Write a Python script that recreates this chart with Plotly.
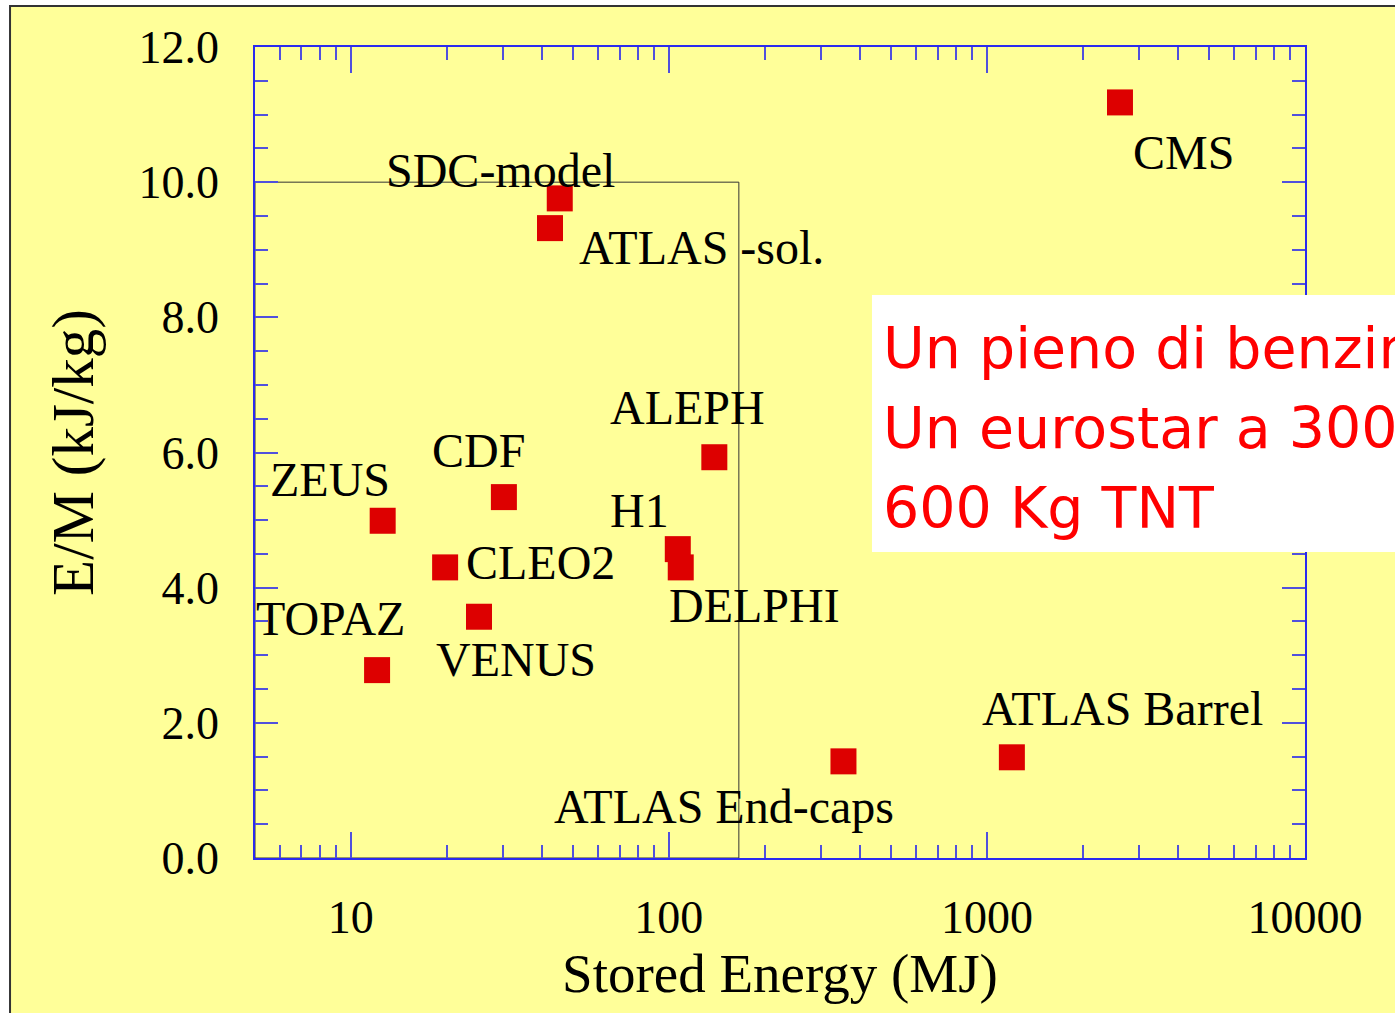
import math
import plotly.graph_objects as go

# ---------------- data ----------------
names = ["CMS", "SDC-model", "ATLAS -sol.", "ALEPH", "CDF", "ZEUS", "H1",
         "CLEO2", "DELPHI", "TOPAZ", "VENUS", "ATLAS Barrel", "ATLAS End-caps"]
stored_energy = [2620, 45.4, 42.3, 139, 30.3, 12.6, 106.7,
                 19.8, 109, 12.1, 25.3, 1198, 354]          # MJ
e_over_m = [11.18, 9.76, 9.32, 5.93, 5.34, 4.99, 4.57,
            4.30, 4.30, 2.78, 3.57, 1.49, 1.43]             # kJ/kg

box_x = [5, 166, 166, 5, 5]          # reference box (MJ)
box_y = [0, 0, 10, 10, 0]            # reference box (kJ/kg)

x_ticks = [10, 100, 1000, 10000]
x_ticktext = ["10", "100", "1000", "10000"]
x_minor = [m * d for d in (1, 10, 100, 1000) for m in range(2, 10) if m * d > 5]
y_ticks = [0, 2, 4, 6, 8, 10, 12]
y_ticktext = ["0.0", "2.0", "4.0", "6.0", "8.0", "10.0", "12.0"]

note_lines = ["Un pieno di benzina", "Un eurostar a 300 km/h", "600 Kg TNT"]

# label offsets in pixels (xshift, yshift) relative to each point
label_shift = {
    "CMS": (15, -50), "SDC-model": (-172, 28), "ATLAS -sol.": (31, -19),
    "ALEPH": (-102, 50), "CDF": (-70, 47), "ZEUS": (-111, 41), "H1": (-66, 39),
    "CLEO2": (23, 5), "DELPHI": (-10, -38), "TOPAZ": (-119, 52),
    "VENUS": (-41, -43), "ATLAS Barrel": (-28, 49), "ATLAS End-caps": (-287, -45),
}

YELLOW = "rgb(255,255,153)"
AXBLUE = "#2a2aee"
TICKBLUE = "#5050dd"
SERIF = "Liberation Serif, Times New Roman, serif"

fig = go.Figure()

fig.add_trace(go.Scatter(
    x=box_x, y=box_y, mode="lines",
    line=dict(color="#333333", width=1), hoverinfo="skip", showlegend=False,
    cliponaxis=False,
))

fig.add_trace(go.Scatter(
    x=stored_energy, y=e_over_m, mode="markers",
    marker=dict(symbol="square", size=26, color="#dd0000", line=dict(width=0)),
    text=names, showlegend=False, cliponaxis=False,
))

annotations = []
for n, xv, yv in zip(names, stored_energy, e_over_m):
    dx, dy = label_shift[n]
    annotations.append(dict(
        x=math.log10(xv), y=yv, xref="x", yref="y", text=n, showarrow=False,
        xanchor="left", yanchor="middle", xshift=dx - 4, yshift=dy,
        font=dict(family=SERIF, size=48, color="black"),
    ))

note_y = [0.629, 0.530, 0.432]
for t, yy in zip(note_lines, note_y):
    annotations.append(dict(
        x=0.596, y=yy, xref="paper", yref="paper", text=t, showarrow=False,
        xanchor="left", yanchor="middle",
        font=dict(family="DejaVu Sans, sans-serif", size=57, color="#ff0000"),
    ))

shapes = [
    # yellow slide background with dark top/left border
    dict(type="rect", xref="paper", yref="paper", x0=-0.2333, x1=1.3,
         y0=-0.4, y1=1.0506, fillcolor=YELLOW,
         line=dict(color="#333333", width=2), layer="below"),
    # white note box
    dict(type="rect", xref="paper", yref="paper", x0=0.5876, x1=1.3,
         y0=0.3773, y1=0.6942, fillcolor="white", line=dict(width=0),
         layer="above"),
]

fig.update_layout(
    width=1395, height=1013,
    margin=dict(l=255, r=90, t=47, b=155),
    paper_bgcolor="white", plot_bgcolor=YELLOW,
    shapes=shapes, annotations=annotations,
    showlegend=False,
    xaxis=dict(
        type="log", range=[math.log10(5), 4],
        tickmode="array", tickvals=x_ticks, ticktext=x_ticktext,
        ticks="inside", ticklen=26, tickwidth=1.5, tickcolor=TICKBLUE,
        minor=dict(tickmode="array", tickvals=x_minor, ticks="inside",
                   ticklen=13, tickwidth=1.5, tickcolor=TICKBLUE, showgrid=False),
        showline=True, linecolor=AXBLUE, linewidth=1.5, mirror="ticks",
        showgrid=False, zeroline=False,
        tickfont=dict(family=SERIF, size=46, color="black"),
        ticklabelstandoff=18,
        title=dict(text="Stored Energy (MJ)", standoff=5,
                   font=dict(family=SERIF, size=55, color="black")),
    ),
    yaxis=dict(
        range=[0, 12],
        tickmode="array", tickvals=y_ticks, ticktext=y_ticktext,
        ticks="inside", ticklen=23, tickwidth=1.5, tickcolor=TICKBLUE,
        minor=dict(dtick=0.5, ticks="inside", ticklen=13, tickwidth=1.5,
                   tickcolor=TICKBLUE, showgrid=False),
        showline=True, linecolor=AXBLUE, linewidth=1.5, mirror="ticks",
        showgrid=False, zeroline=False,
        tickfont=dict(family=SERIF, size=46, color="black"),
        ticklabelstandoff=25,
        title=dict(text="E/M (kJ/kg)", standoff=26,
                   font=dict(family=SERIF, size=59, color="black")),
    ),
)

fig.write_html("out.html", config={"displayModeBar": False},
               post_script="document.body.style.margin='0';")
